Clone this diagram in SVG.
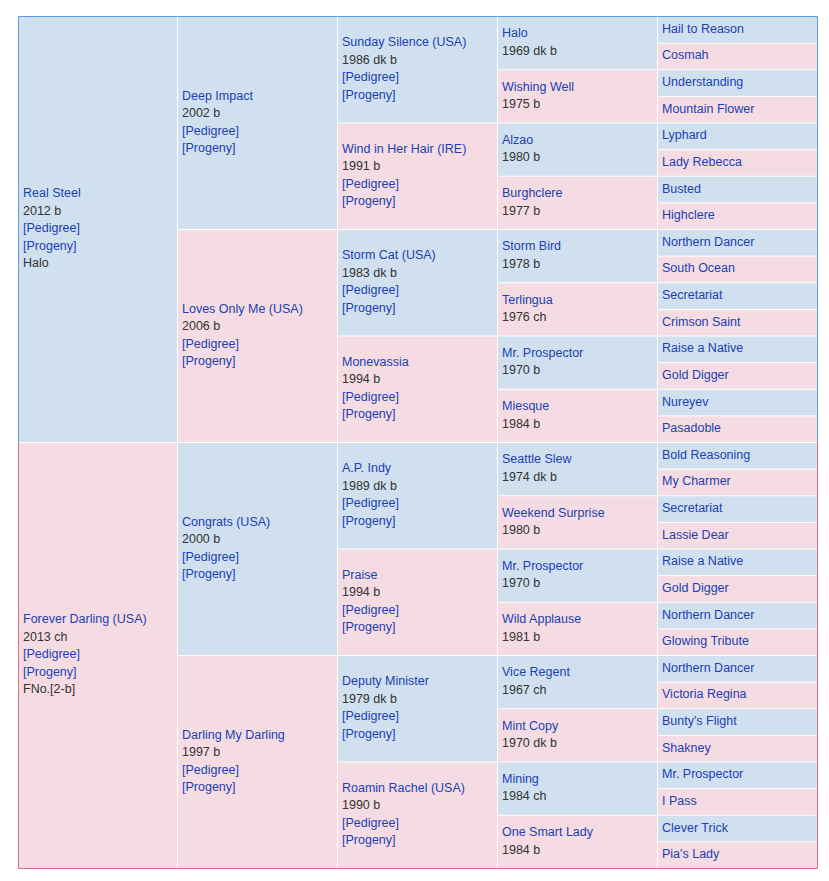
<svg xmlns="http://www.w3.org/2000/svg" width="829" height="881" viewBox="0 0 829 881">
<style>
rect.b{fill:#d0e0ef}
rect.p{fill:#f5dce2}
text{font-family:"Liberation Sans",Arial,sans-serif;font-size:12.5px;transform:translate(0px,-0.8px)}
.l{fill:#1b40b3}
.d{fill:#333333}
</style>
<rect width="829" height="881" fill="#ffffff"/>
<g id="col0">
<g id="n-real-steel"><rect class="b" x="19" y="17" width="158" height="425"/>
<text x="23" y="198.3"><tspan class="l">Real Steel</tspan><tspan class="d" x="23" dy="17.5">2012 b</tspan><tspan class="l" x="23" dy="17.5">[Pedigree]</tspan><tspan class="l" x="23" dy="17.5">[Progeny]</tspan><tspan class="d" x="23" dy="17.5">Halo</tspan></text></g>
<g id="n-forever-darling"><rect class="p" x="19" y="443" width="158" height="425"/>
<text x="23" y="624.3"><tspan class="l">Forever Darling (USA)</tspan><tspan class="d" x="23" dy="17.5">2013 ch</tspan><tspan class="l" x="23" dy="17.5">[Pedigree]</tspan><tspan class="l" x="23" dy="17.5">[Progeny]</tspan><tspan class="d" x="23" dy="17.5">FNo.[2-b]</tspan></text></g>
</g>
<g id="col1">
<g id="n-deep-impact"><rect class="b" x="178" y="17" width="159" height="212"/>
<text x="182" y="100.6"><tspan class="l">Deep Impact</tspan><tspan class="d" x="182" dy="17.5">2002 b</tspan><tspan class="l" x="182" dy="17.5">[Pedigree]</tspan><tspan class="l" x="182" dy="17.5">[Progeny]</tspan></text></g>
<g id="n-loves-only-me"><rect class="p" x="178" y="230" width="159" height="212"/>
<text x="182" y="313.6"><tspan class="l">Loves Only Me (USA)</tspan><tspan class="d" x="182" dy="17.5">2006 b</tspan><tspan class="l" x="182" dy="17.5">[Pedigree]</tspan><tspan class="l" x="182" dy="17.5">[Progeny]</tspan></text></g>
<g id="n-congrats"><rect class="b" x="178" y="443" width="159" height="212"/>
<text x="182" y="526.6"><tspan class="l">Congrats (USA)</tspan><tspan class="d" x="182" dy="17.5">2000 b</tspan><tspan class="l" x="182" dy="17.5">[Pedigree]</tspan><tspan class="l" x="182" dy="17.5">[Progeny]</tspan></text></g>
<g id="n-darling-my-darling"><rect class="p" x="178" y="656" width="159" height="212"/>
<text x="182" y="739.6"><tspan class="l">Darling My Darling</tspan><tspan class="d" x="182" dy="17.5">1997 b</tspan><tspan class="l" x="182" dy="17.5">[Pedigree]</tspan><tspan class="l" x="182" dy="17.5">[Progeny]</tspan></text></g>
</g>
<g id="col2">
<g id="n-sunday-silence"><rect class="b" x="338" y="17" width="159" height="105.5"/>
<text x="342" y="47.3"><tspan class="l">Sunday Silence (USA)</tspan><tspan class="d" x="342" dy="17.5">1986 dk b</tspan><tspan class="l" x="342" dy="17.5">[Pedigree]</tspan><tspan class="l" x="342" dy="17.5">[Progeny]</tspan></text></g>
<g id="n-wind-in-her-hair"><rect class="p" x="338" y="123.5" width="159" height="105.5"/>
<text x="342" y="153.8"><tspan class="l">Wind in Her Hair (IRE)</tspan><tspan class="d" x="342" dy="17.5">1991 b</tspan><tspan class="l" x="342" dy="17.5">[Pedigree]</tspan><tspan class="l" x="342" dy="17.5">[Progeny]</tspan></text></g>
<g id="n-storm-cat"><rect class="b" x="338" y="230" width="159" height="105.5"/>
<text x="342" y="260.3"><tspan class="l">Storm Cat (USA)</tspan><tspan class="d" x="342" dy="17.5">1983 dk b</tspan><tspan class="l" x="342" dy="17.5">[Pedigree]</tspan><tspan class="l" x="342" dy="17.5">[Progeny]</tspan></text></g>
<g id="n-monevassia"><rect class="p" x="338" y="336.5" width="159" height="105.5"/>
<text x="342" y="366.8"><tspan class="l">Monevassia</tspan><tspan class="d" x="342" dy="17.5">1994 b</tspan><tspan class="l" x="342" dy="17.5">[Pedigree]</tspan><tspan class="l" x="342" dy="17.5">[Progeny]</tspan></text></g>
<g id="n-ap-indy"><rect class="b" x="338" y="443" width="159" height="105.5"/>
<text x="342" y="473.3"><tspan class="l">A.P. Indy</tspan><tspan class="d" x="342" dy="17.5">1989 dk b</tspan><tspan class="l" x="342" dy="17.5">[Pedigree]</tspan><tspan class="l" x="342" dy="17.5">[Progeny]</tspan></text></g>
<g id="n-praise"><rect class="p" x="338" y="549.5" width="159" height="105.5"/>
<text x="342" y="579.8"><tspan class="l">Praise</tspan><tspan class="d" x="342" dy="17.5">1994 b</tspan><tspan class="l" x="342" dy="17.5">[Pedigree]</tspan><tspan class="l" x="342" dy="17.5">[Progeny]</tspan></text></g>
<g id="n-deputy-minister"><rect class="b" x="338" y="656" width="159" height="105.5"/>
<text x="342" y="686.3"><tspan class="l">Deputy Minister</tspan><tspan class="d" x="342" dy="17.5">1979 dk b</tspan><tspan class="l" x="342" dy="17.5">[Pedigree]</tspan><tspan class="l" x="342" dy="17.5">[Progeny]</tspan></text></g>
<g id="n-roamin-rachel"><rect class="p" x="338" y="762.5" width="159" height="105.5"/>
<text x="342" y="792.8"><tspan class="l">Roamin Rachel (USA)</tspan><tspan class="d" x="342" dy="17.5">1990 b</tspan><tspan class="l" x="342" dy="17.5">[Pedigree]</tspan><tspan class="l" x="342" dy="17.5">[Progeny]</tspan></text></g>
</g>
<g id="col3">
<g id="n-halo"><rect class="b" x="498" y="17" width="159" height="52.25"/><text x="502" y="38.2"><tspan class="l">Halo</tspan><tspan class="d" x="502" dy="17.5">1969 dk b</tspan></text></g>
<g id="n-wishing-well"><rect class="p" x="498" y="70.25" width="159" height="52.25"/><text x="502" y="91.4"><tspan class="l">Wishing Well</tspan><tspan class="d" x="502" dy="17.5">1975 b</tspan></text></g>
<g id="n-alzao"><rect class="b" x="498" y="123.5" width="159" height="52.25"/><text x="502" y="144.7"><tspan class="l">Alzao</tspan><tspan class="d" x="502" dy="17.5">1980 b</tspan></text></g>
<g id="n-burghclere"><rect class="p" x="498" y="176.75" width="159" height="52.25"/><text x="502" y="197.9"><tspan class="l">Burghclere</tspan><tspan class="d" x="502" dy="17.5">1977 b</tspan></text></g>
<g id="n-storm-bird"><rect class="b" x="498" y="230" width="159" height="52.25"/><text x="502" y="251.2"><tspan class="l">Storm Bird</tspan><tspan class="d" x="502" dy="17.5">1978 b</tspan></text></g>
<g id="n-terlingua"><rect class="p" x="498" y="283.25" width="159" height="52.25"/><text x="502" y="304.4"><tspan class="l">Terlingua</tspan><tspan class="d" x="502" dy="17.5">1976 ch</tspan></text></g>
<g id="n-mr-prospector-1"><rect class="b" x="498" y="336.5" width="159" height="52.25"/><text x="502" y="357.7"><tspan class="l">Mr. Prospector</tspan><tspan class="d" x="502" dy="17.5">1970 b</tspan></text></g>
<g id="n-miesque"><rect class="p" x="498" y="389.75" width="159" height="52.25"/><text x="502" y="410.9"><tspan class="l">Miesque</tspan><tspan class="d" x="502" dy="17.5">1984 b</tspan></text></g>
<g id="n-seattle-slew"><rect class="b" x="498" y="443" width="159" height="52.25"/><text x="502" y="464.2"><tspan class="l">Seattle Slew</tspan><tspan class="d" x="502" dy="17.5">1974 dk b</tspan></text></g>
<g id="n-weekend-surprise"><rect class="p" x="498" y="496.25" width="159" height="52.25"/><text x="502" y="517.4"><tspan class="l">Weekend Surprise</tspan><tspan class="d" x="502" dy="17.5">1980 b</tspan></text></g>
<g id="n-mr-prospector-2"><rect class="b" x="498" y="549.5" width="159" height="52.25"/><text x="502" y="570.7"><tspan class="l">Mr. Prospector</tspan><tspan class="d" x="502" dy="17.5">1970 b</tspan></text></g>
<g id="n-wild-applause"><rect class="p" x="498" y="602.75" width="159" height="52.25"/><text x="502" y="623.9"><tspan class="l">Wild Applause</tspan><tspan class="d" x="502" dy="17.5">1981 b</tspan></text></g>
<g id="n-vice-regent"><rect class="b" x="498" y="656" width="159" height="52.25"/><text x="502" y="677.2"><tspan class="l">Vice Regent</tspan><tspan class="d" x="502" dy="17.5">1967 ch</tspan></text></g>
<g id="n-mint-copy"><rect class="p" x="498" y="709.25" width="159" height="52.25"/><text x="502" y="730.4"><tspan class="l">Mint Copy</tspan><tspan class="d" x="502" dy="17.5">1970 dk b</tspan></text></g>
<g id="n-mining"><rect class="b" x="498" y="762.5" width="159" height="52.25"/><text x="502" y="783.7"><tspan class="l">Mining</tspan><tspan class="d" x="502" dy="17.5">1984 ch</tspan></text></g>
<g id="n-one-smart-lady"><rect class="p" x="498" y="815.75" width="159" height="52.25"/><text x="502" y="836.9"><tspan class="l">One Smart Lady</tspan><tspan class="d" x="502" dy="17.5">1984 b</tspan></text></g>
</g>
<g id="col4">
<g id="n-hail-to-reason"><rect class="b" x="658" y="17" width="159" height="25.625"/><text class="l" x="662" y="33.6">Hail to Reason</text></g>
<g id="n-cosmah"><rect class="p" x="658" y="43.625" width="159" height="25.625"/><text class="l" x="662" y="60.2">Cosmah</text></g>
<g id="n-understanding"><rect class="b" x="658" y="70.25" width="159" height="25.625"/><text class="l" x="662" y="86.9">Understanding</text></g>
<g id="n-mountain-flower"><rect class="p" x="658" y="96.875" width="159" height="25.625"/><text class="l" x="662" y="113.5">Mountain Flower</text></g>
<g id="n-lyphard"><rect class="b" x="658" y="123.5" width="159" height="25.625"/><text class="l" x="662" y="140.1">Lyphard</text></g>
<g id="n-lady-rebecca"><rect class="p" x="658" y="150.125" width="159" height="25.625"/><text class="l" x="662" y="166.7">Lady Rebecca</text></g>
<g id="n-busted"><rect class="b" x="658" y="176.75" width="159" height="25.625"/><text class="l" x="662" y="193.4">Busted</text></g>
<g id="n-highclere"><rect class="p" x="658" y="203.375" width="159" height="25.625"/><text class="l" x="662" y="220">Highclere</text></g>
<g id="n-northern-dancer-1"><rect class="b" x="658" y="230" width="159" height="25.625"/><text class="l" x="662" y="246.6">Northern Dancer</text></g>
<g id="n-south-ocean"><rect class="p" x="658" y="256.625" width="159" height="25.625"/><text class="l" x="662" y="273.2">South Ocean</text></g>
<g id="n-secretariat-1"><rect class="b" x="658" y="283.25" width="159" height="25.625"/><text class="l" x="662" y="299.9">Secretariat</text></g>
<g id="n-crimson-saint"><rect class="p" x="658" y="309.875" width="159" height="25.625"/><text class="l" x="662" y="326.5">Crimson Saint</text></g>
<g id="n-raise-a-native-1"><rect class="b" x="658" y="336.5" width="159" height="25.625"/><text class="l" x="662" y="353.1">Raise a Native</text></g>
<g id="n-gold-digger-1"><rect class="p" x="658" y="363.125" width="159" height="25.625"/><text class="l" x="662" y="379.7">Gold Digger</text></g>
<g id="n-nureyev"><rect class="b" x="658" y="389.75" width="159" height="25.625"/><text class="l" x="662" y="406.4">Nureyev</text></g>
<g id="n-pasadoble"><rect class="p" x="658" y="416.375" width="159" height="25.625"/><text class="l" x="662" y="433">Pasadoble</text></g>
<g id="n-bold-reasoning"><rect class="b" x="658" y="443" width="159" height="25.625"/><text class="l" x="662" y="459.6">Bold Reasoning</text></g>
<g id="n-my-charmer"><rect class="p" x="658" y="469.625" width="159" height="25.625"/><text class="l" x="662" y="486.2">My Charmer</text></g>
<g id="n-secretariat-2"><rect class="b" x="658" y="496.25" width="159" height="25.625"/><text class="l" x="662" y="512.9">Secretariat</text></g>
<g id="n-lassie-dear"><rect class="p" x="658" y="522.875" width="159" height="25.625"/><text class="l" x="662" y="539.5">Lassie Dear</text></g>
<g id="n-raise-a-native-2"><rect class="b" x="658" y="549.5" width="159" height="25.625"/><text class="l" x="662" y="566.1">Raise a Native</text></g>
<g id="n-gold-digger-2"><rect class="p" x="658" y="576.125" width="159" height="25.625"/><text class="l" x="662" y="592.7">Gold Digger</text></g>
<g id="n-northern-dancer-2"><rect class="b" x="658" y="602.75" width="159" height="25.625"/><text class="l" x="662" y="619.4">Northern Dancer</text></g>
<g id="n-glowing-tribute"><rect class="p" x="658" y="629.375" width="159" height="25.625"/><text class="l" x="662" y="646">Glowing Tribute</text></g>
<g id="n-northern-dancer-3"><rect class="b" x="658" y="656" width="159" height="25.625"/><text class="l" x="662" y="672.6">Northern Dancer</text></g>
<g id="n-victoria-regina"><rect class="p" x="658" y="682.625" width="159" height="25.625"/><text class="l" x="662" y="699.2">Victoria Regina</text></g>
<g id="n-buntys-flight"><rect class="b" x="658" y="709.25" width="159" height="25.625"/><text class="l" x="662" y="725.9">Bunty's Flight</text></g>
<g id="n-shakney"><rect class="p" x="658" y="735.875" width="159" height="25.625"/><text class="l" x="662" y="752.5">Shakney</text></g>
<g id="n-mr-prospector-3"><rect class="b" x="658" y="762.5" width="159" height="25.625"/><text class="l" x="662" y="779.1">Mr. Prospector</text></g>
<g id="n-i-pass"><rect class="p" x="658" y="789.125" width="159" height="25.625"/><text class="l" x="662" y="805.7">I Pass</text></g>
<g id="n-clever-trick"><rect class="b" x="658" y="815.75" width="159" height="25.625"/><text class="l" x="662" y="832.4">Clever Trick</text></g>
<g id="n-pias-lady"><rect class="p" x="658" y="842.375" width="159" height="25.625"/><text class="l" x="662" y="859">Pia's Lady</text></g>
</g>
<g id="border" fill="none" stroke-width="1">
<path d="M18.5,442 V16.5 H817.5 V442" stroke="#5b9de0"/>
<path d="M18.5,442 V868.5 H817.5 V442" stroke="#df6b8c"/>
</g>
</svg>
